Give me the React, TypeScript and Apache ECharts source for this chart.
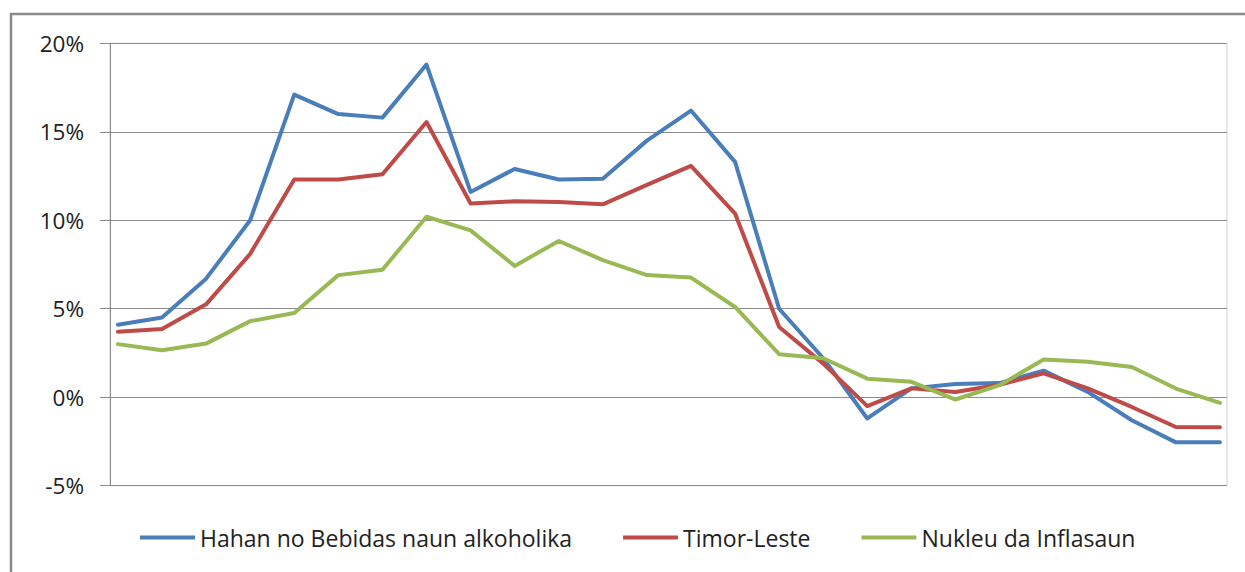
import React, { useEffect, useRef } from "react";
import * as echarts from "echarts";

const seriesNames = ["Hahan no Bebidas naun alkoholika", "Timor-Leste", "Nukleu da Inflasaun"];
const seriesColors = ["#4a7ebb", "#be4b48", "#98b954"];

const beverages = [4.1, 4.5, 6.7, 10.0, 17.1, 16.0, 15.8, 18.8, 11.6, 12.9, 12.3, 12.35, 14.5, 16.2, 13.3, 5.0, 2.2, -1.2, 0.5, 0.75, 0.8, 1.5, 0.3, -1.3, -2.55, -2.55];
const timorLeste = [3.7, 3.85, 5.25, 8.1, 12.3, 12.3, 12.6, 15.55, 10.95, 11.07, 11.03, 10.9, 12.0, 13.07, 10.38, 3.97, 1.9, -0.5, 0.5, 0.3, 0.7, 1.35, 0.5, -0.55, -1.68, -1.7];
const coreInflation = [3.0, 2.65, 3.03, 4.3, 4.76, 6.9, 7.2, 10.2, 9.43, 7.42, 8.83, 7.75, 6.9, 6.76, 5.1, 2.43, 2.2, 1.05, 0.87, -0.13, 0.68, 2.13, 2.0, 1.71, 0.49, -0.32];

const yTicks = { min: -5, max: 20, interval: 5 };

export default function App() {
  const ref = useRef<HTMLDivElement>(null);
  useEffect(() => {
    if (!ref.current) return;
    const chart = echarts.init(ref.current, null, { renderer: "svg" });
    const all = [beverages, timorLeste, coreInflation];
    const font = "'Open Sans', 'Noto Sans', sans-serif";
    chart.setOption({
      animation: false,
      backgroundColor: "#ffffff",
      textStyle: { fontFamily: font },
      grid: {
        left: 110,
        top: 43.3,
        right: 18,
        bottom: 86.3,
        show: true,
        borderColor: "#cfcfcf",
        borderWidth: 1,
        backgroundColor: "transparent",
      },
      xAxis: {
        type: "value",
        min: -0.18,
        max: 25.16,
        show: false,
      },
      yAxis: {
        type: "value",
        min: yTicks.min,
        max: yTicks.max,
        interval: yTicks.interval,
        axisLine: { show: true, onZero: false, lineStyle: { color: "#8c8c8c", width: 1 } },
        axisTick: { show: true, length: 10, lineStyle: { color: "#8c8c8c" } },
        splitLine: { show: true, lineStyle: { color: "#8c8c8c", width: 1 } },
        axisLabel: {
          formatter: "{value}%",
          margin: 26,
          fontSize: 22.5,
          color: "#222222",
          fontFamily: font,
        },
      },
      legend: {
        left: 135,
        top: 521,
        icon: "rect",
        itemWidth: 55,
        itemHeight: 4,
        itemGap: 51,
        textStyle: { fontSize: 23, color: "#222222", fontFamily: font },
        data: seriesNames,
      },
      graphic: [
        {
          type: "rect",
          shape: { x: 11, y: 14, width: 1400, height: 700 },
          style: { fill: "none", stroke: "#8a8a8a", lineWidth: 2.5 },
          silent: true,
        },
      ],
      series: seriesNames.map((name, s) => ({
        name,
        type: "line",
        symbol: "none",
        color: seriesColors[s],
        lineStyle: { width: 4, color: seriesColors[s], cap: "round", join: "round" },
        data: all[s].map((v, i) => [i, v]),
      })),
    });
    return () => chart.dispose();
  }, []);
  return (
    <div
      ref={ref}
      style={{ position: "fixed", left: 0, top: 0, width: 1245, height: 572, background: "#fff" }}
    />
  );
}
